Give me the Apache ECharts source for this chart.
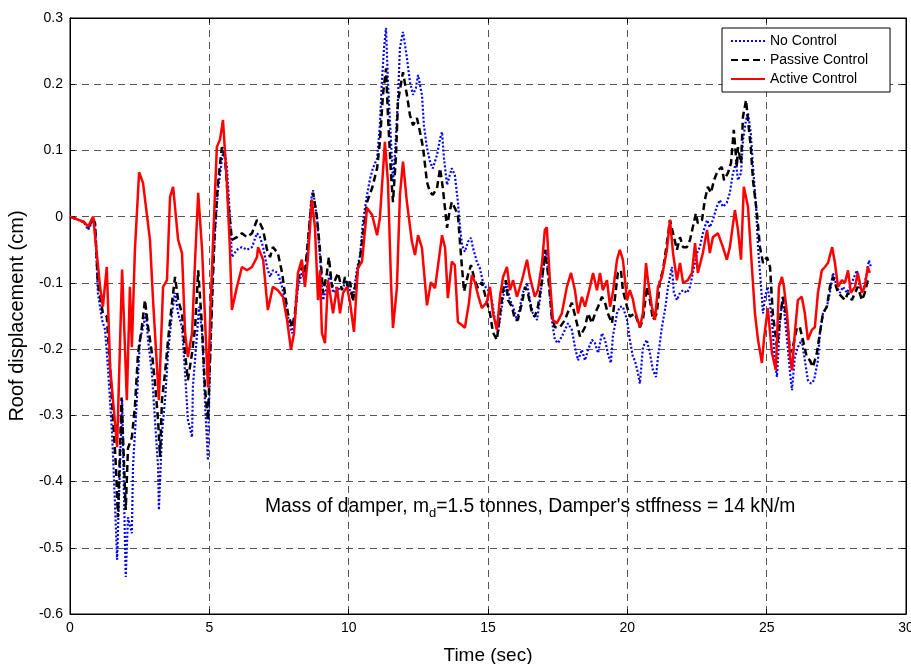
<!DOCTYPE html>
<html>
<head>
<meta charset="utf-8">
<script src="https://cdn.jsdelivr.net/npm/echarts@6/dist/echarts.min.js"></script>
<style>
html,body{margin:0;padding:0;background:#fff;}
#chart{width:911px;height:664px;}
</style>
</head>
<body>
<div id="chart"></div>
<script>
// ---- Data (time in s, roof displacement in cm) ----
var seriesNames = ['No Control', 'Passive Control', 'Active Control'];

var tNone = [0,0.5,0.65,0.83,0.9,1,1.15,1.26,1.36,1.51,1.61,1.69,1.79,1.87,1.94,2,2.08,2.22,2.26,2.4,2.51,2.62,2.73,2.8,2.94,3.05,3.16,3.19,3.3,3.41,3.52,3.66,3.77,3.88,4.02,4.13,4.23,4.38,4.41,4.56,4.63,4.74,4.84,4.95,5.02,5.13,5.2,5.31,5.45,5.53,5.63,5.74,5.81,5.99,6.17,6.35,6.53,6.71,6.82,6.93,7.07,7.18,7.28,7.46,7.61,7.71,7.82,7.97,8.07,8.18,8.32,8.43,8.54,8.65,8.72,8.86,8.97,9.08,9.22,9.33,9.44,9.58,9.69,9.8,9.94,10.05,10.15,10.3,10.41,10.51,10.66,10.77,10.87,11.02,11.12,11.19,11.27,11.34,11.41,11.52,11.59,11.66,11.77,11.84,11.95,12.09,12.2,12.31,12.41,12.49,12.63,12.7,12.81,12.92,13.02,13.17,13.28,13.35,13.42,13.53,13.63,13.7,13.81,13.92,13.99,14.07,14.17,14.28,14.39,14.46,14.6,14.71,14.82,14.96,15.07,15.14,15.25,15.36,15.46,15.57,15.68,15.79,15.9,16.04,16.15,16.25,16.4,16.5,16.61,16.76,16.86,16.97,17.08,17.18,17.29,17.4,17.51,17.65,17.76,17.87,18.01,18.12,18.23,18.37,18.48,18.59,18.73,18.84,18.95,19.09,19.2,19.3,19.41,19.48,19.63,19.73,19.84,19.99,20.09,20.2,20.27,20.38,20.45,20.56,20.7,20.81,20.92,21.03,21.1,21.24,21.35,21.46,21.6,21.67,21.78,21.89,22,22.14,22.25,22.35,22.5,22.6,22.71,22.86,22.96,23.07,23.21,23.32,23.43,23.57,23.68,23.79,23.9,23.97,24.08,24.15,24.26,24.33,24.43,24.51,24.62,24.69,24.8,24.87,24.94,25.04,25.19,25.3,25.37,25.48,25.58,25.73,25.84,25.91,26.01,26.12,26.26,26.37,26.48,26.59,26.7,26.84,26.91,27.02,27.16,27.27,27.38,27.52,27.63,27.74,27.88,27.99,28.09,28.24,28.34,28.45,28.59,28.67,28.74];
var vNone = [0,-0.008,-0.02,-0.005,-0.012,-0.115,-0.156,-0.171,-0.227,-0.327,-0.428,-0.518,-0.378,-0.277,-0.428,-0.544,-0.454,-0.478,-0.378,-0.277,-0.186,-0.167,-0.146,-0.186,-0.236,-0.307,-0.378,-0.443,-0.327,-0.277,-0.206,-0.146,-0.115,-0.146,-0.167,-0.236,-0.307,-0.333,-0.257,-0.176,-0.136,-0.176,-0.277,-0.368,-0.227,-0.076,-0.025,0.04,0.086,0.105,0.075,0,-0.061,-0.05,-0.046,-0.05,-0.046,-0.025,-0.031,-0.046,-0.076,-0.091,-0.081,-0.085,-0.106,-0.126,-0.151,-0.176,-0.156,-0.106,-0.085,-0.096,-0.04,0.025,0.04,0,-0.061,-0.126,-0.106,-0.085,-0.115,-0.106,-0.111,-0.106,-0.096,-0.112,-0.124,-0.078,-0.058,-0.008,0.033,0.058,0.073,0.088,0.138,0.203,0.255,0.285,0.203,0.113,0.052,0.093,0.179,0.255,0.279,0.24,0.203,0.184,0.194,0.214,0.184,0.138,0.104,0.083,0.073,0.093,0.118,0.128,0.088,0.048,0.063,0.073,0.063,0.022,-0.013,-0.043,-0.053,-0.038,-0.032,-0.047,-0.068,-0.078,-0.099,-0.11,-0.112,-0.126,-0.156,-0.176,-0.146,-0.115,-0.1,-0.126,-0.136,-0.156,-0.136,-0.115,-0.1,-0.126,-0.146,-0.156,-0.126,-0.085,-0.05,-0.091,-0.156,-0.186,-0.191,-0.181,-0.171,-0.161,-0.171,-0.197,-0.217,-0.201,-0.217,-0.201,-0.186,-0.191,-0.206,-0.176,-0.186,-0.206,-0.221,-0.181,-0.146,-0.136,-0.136,-0.156,-0.186,-0.212,-0.217,-0.236,-0.252,-0.197,-0.186,-0.206,-0.232,-0.242,-0.212,-0.167,-0.141,-0.106,-0.076,-0.115,-0.126,-0.115,-0.111,-0.115,-0.106,-0.085,-0.055,-0.046,-0.025,-0.005,-0.016,-0.005,0.015,0.025,0.015,0.021,0.036,0.066,0.081,0.055,0.066,0.116,0.146,0.157,0.126,0.075,0.015,-0.046,-0.106,-0.146,-0.121,-0.106,-0.156,-0.221,-0.242,-0.156,-0.121,-0.186,-0.236,-0.262,-0.212,-0.197,-0.186,-0.217,-0.247,-0.252,-0.247,-0.217,-0.176,-0.146,-0.136,-0.115,-0.085,-0.106,-0.115,-0.106,-0.115,-0.106,-0.096,-0.081,-0.106,-0.115,-0.085,-0.066,-0.076];

var tPassive = [0,0.5,0.65,0.83,0.9,1,1.18,1.32,1.44,1.54,1.65,1.72,1.85,2,2.08,2.22,2.33,2.44,2.58,2.69,2.8,2.94,3.05,3.16,3.23,3.3,3.41,3.52,3.66,3.77,3.88,4.02,4.13,4.23,4.38,4.49,4.6,4.74,4.84,4.95,5.1,5.2,5.31,5.45,5.56,5.67,5.81,5.99,6.17,6.35,6.53,6.71,6.82,6.93,7.07,7.18,7.28,7.46,7.61,7.71,7.82,7.97,8.07,8.18,8.32,8.43,8.54,8.68,8.72,8.86,8.97,9.08,9.22,9.29,9.4,9.51,9.62,9.76,9.87,9.97,10.05,10.15,10.3,10.41,10.51,10.66,10.84,11.02,11.12,11.23,11.34,11.41,11.52,11.59,11.7,11.77,11.91,11.95,12.09,12.2,12.31,12.45,12.56,12.67,12.81,12.92,13.02,13.17,13.28,13.38,13.53,13.6,13.7,13.81,13.92,14.03,14.14,14.28,14.39,14.5,14.64,14.78,14.96,15.07,15.18,15.32,15.43,15.54,15.64,15.72,15.86,15.97,16.07,16.22,16.33,16.43,16.58,16.68,16.79,16.94,17.04,17.15,17.29,17.4,17.58,17.76,17.94,18.01,18.19,18.3,18.48,18.59,18.73,18.84,18.95,19.09,19.2,19.3,19.45,19.56,19.66,19.77,19.84,19.99,20.09,20.27,20.45,20.56,20.7,20.81,20.92,21.06,21.17,21.28,21.42,21.53,21.64,21.78,21.89,22,22.14,22.25,22.35,22.46,22.53,22.68,22.78,22.89,23,23.11,23.25,23.39,23.47,23.61,23.72,23.82,23.93,23.97,24.08,24.15,24.26,24.33,24.43,24.51,24.65,24.76,24.87,25.01,25.12,25.22,25.37,25.48,25.58,25.73,25.84,25.94,26.09,26.19,26.3,26.44,26.55,26.66,26.8,26.91,27.02,27.16,27.27,27.38,27.45,27.56,27.7,27.81,27.92,28.06,28.17,28.27,28.42,28.52,28.63,28.7];
var vPassive = [0,-0.008,-0.017,-0.003,-0.01,-0.1,-0.146,-0.151,-0.227,-0.302,-0.378,-0.454,-0.273,-0.443,-0.35,-0.333,-0.287,-0.207,-0.166,-0.126,-0.166,-0.206,-0.251,-0.307,-0.363,-0.277,-0.236,-0.186,-0.13,-0.091,-0.126,-0.146,-0.206,-0.247,-0.206,-0.167,-0.081,-0.167,-0.257,-0.307,-0.126,-0.016,0.051,0.105,0.09,0.025,-0.035,-0.031,-0.025,-0.031,-0.025,-0.005,-0.01,-0.02,-0.05,-0.061,-0.046,-0.055,-0.085,-0.115,-0.146,-0.167,-0.146,-0.096,-0.076,-0.085,-0.035,0.025,0.036,0,-0.05,-0.115,-0.085,-0.061,-0.106,-0.096,-0.085,-0.111,-0.091,-0.106,-0.098,-0.128,-0.088,-0.062,-0.028,0.022,0.043,0.073,0.113,0.184,0.224,0.153,0.063,0.022,0.093,0.174,0.209,0.218,0.184,0.153,0.138,0.149,0.128,0.104,0.052,0.037,0.033,0.043,0.073,0.043,-0.017,0.003,0.022,0.013,0.003,-0.058,-0.113,-0.088,-0.073,-0.092,-0.108,-0.099,-0.129,-0.146,-0.175,-0.186,-0.146,-0.111,-0.096,-0.126,-0.136,-0.156,-0.156,-0.13,-0.106,-0.115,-0.146,-0.151,-0.136,-0.096,-0.05,-0.085,-0.151,-0.167,-0.167,-0.156,-0.136,-0.13,-0.161,-0.181,-0.167,-0.146,-0.161,-0.146,-0.136,-0.121,-0.13,-0.146,-0.161,-0.121,-0.085,-0.081,-0.111,-0.136,-0.151,-0.146,-0.167,-0.156,-0.106,-0.126,-0.156,-0.146,-0.096,-0.081,-0.04,-0.005,-0.025,-0.05,-0.031,-0.046,-0.046,-0.035,-0.016,0.005,-0.01,-0.005,0.025,0.045,0.036,0.055,0.07,0.075,0.055,0.066,0.081,0.131,0.075,0.105,0.081,0.151,0.176,0.146,0.105,0.055,0.005,-0.046,-0.07,-0.061,-0.076,-0.146,-0.197,-0.156,-0.121,-0.156,-0.206,-0.197,-0.167,-0.167,-0.186,-0.212,-0.217,-0.227,-0.206,-0.176,-0.146,-0.136,-0.106,-0.091,-0.1,-0.115,-0.121,-0.126,-0.115,-0.126,-0.115,-0.106,-0.126,-0.115,-0.096,-0.096];

var tActive = [0,0.5,0.65,0.83,1.08,1.18,1.32,1.44,1.69,1.87,2.04,2.15,2.22,2.33,2.48,2.62,2.87,2.98,3.19,3.34,3.48,3.59,3.7,3.88,4.02,4.13,4.23,4.38,4.49,4.6,4.74,4.95,5.05,5.15,5.27,5.38,5.49,5.63,5.74,5.81,5.99,6.17,6.35,6.53,6.71,6.75,6.93,7.1,7.28,7.46,7.64,7.79,7.93,8.04,8.18,8.32,8.43,8.54,8.68,8.79,8.9,8.97,9.04,9.15,9.26,9.44,9.58,9.69,9.8,9.94,10.05,10.19,10.33,10.48,10.66,10.84,11.02,11.12,11.3,11.41,11.52,11.59,11.73,11.84,11.95,12.09,12.27,12.38,12.49,12.63,12.81,12.95,13.1,13.35,13.46,13.56,13.7,13.81,13.92,14.07,14.17,14.32,14.42,14.53,14.64,14.78,14.96,15.07,15.18,15.32,15.43,15.54,15.68,15.79,15.9,16.04,16.22,16.4,16.5,16.68,16.79,16.94,17.04,17.11,17.22,17.33,17.47,17.65,17.83,17.98,18.12,18.23,18.37,18.48,18.66,18.77,18.91,19.02,19.12,19.27,19.38,19.48,19.63,19.73,19.84,19.99,20.09,20.2,20.27,20.45,20.56,20.67,20.74,20.88,20.99,21.1,21.24,21.42,21.53,21.64,21.78,21.89,22,22.17,22.32,22.43,22.53,22.71,22.86,22.96,23.07,23.25,23.43,23.57,23.68,23.86,23.97,24.08,24.18,24.33,24.47,24.58,24.69,24.83,24.9,25.04,25.19,25.33,25.44,25.55,25.62,25.73,25.84,25.91,26.01,26.12,26.26,26.37,26.48,26.62,26.73,26.84,26.98,27.09,27.2,27.35,27.45,27.56,27.7,27.81,27.92,28.02,28.17,28.27,28.42,28.52,28.63,28.7];
var vActive = [0,-0.008,-0.015,0,-0.106,-0.136,-0.076,-0.227,-0.348,-0.08,-0.277,-0.106,-0.197,-0.05,0.067,0.051,-0.035,-0.126,-0.277,-0.106,-0.096,0.03,0.045,-0.035,-0.055,-0.176,-0.212,-0.176,-0.065,0.036,-0.05,-0.258,-0.13,-0.02,0.105,0.116,0.146,0.051,-0.05,-0.141,-0.106,-0.076,-0.081,-0.076,-0.061,-0.046,-0.065,-0.141,-0.106,-0.111,-0.121,-0.156,-0.201,-0.176,-0.085,-0.065,-0.106,-0.061,0.025,-0.016,-0.126,-0.081,-0.176,-0.191,-0.096,-0.146,-0.106,-0.146,-0.115,-0.106,-0.13,-0.174,-0.078,-0.068,0.013,0.003,-0.028,-0.002,0.113,0.052,-0.099,-0.168,-0.108,0.033,0.083,0.022,-0.038,-0.058,-0.028,-0.047,-0.134,-0.099,-0.108,-0.028,-0.047,-0.123,-0.068,-0.073,-0.159,-0.164,-0.168,-0.129,-0.088,-0.099,-0.118,-0.138,-0.129,-0.106,-0.146,-0.171,-0.121,-0.091,-0.076,-0.111,-0.096,-0.121,-0.096,-0.065,-0.091,-0.121,-0.111,-0.07,-0.02,-0.016,-0.096,-0.156,-0.161,-0.146,-0.106,-0.085,-0.111,-0.146,-0.121,-0.136,-0.106,-0.085,-0.111,-0.085,-0.111,-0.096,-0.136,-0.115,-0.065,-0.05,-0.065,-0.126,-0.111,-0.125,-0.141,-0.167,-0.146,-0.07,-0.096,-0.136,-0.156,-0.106,-0.091,-0.05,-0.005,-0.055,-0.096,-0.07,-0.1,-0.096,-0.085,-0.04,-0.085,-0.055,-0.02,-0.055,-0.031,-0.025,-0.046,-0.065,-0.046,0.01,-0.02,-0.065,0.045,0.015,-0.076,-0.146,-0.186,-0.221,-0.186,-0.138,-0.206,-0.232,-0.106,-0.091,-0.106,-0.146,-0.212,-0.232,-0.176,-0.126,-0.121,-0.146,-0.186,-0.171,-0.167,-0.115,-0.081,-0.076,-0.07,-0.046,-0.07,-0.106,-0.096,-0.1,-0.081,-0.115,-0.106,-0.085,-0.115,-0.106,-0.076,-0.085];

var xTicks = {min: 0, max: 30, step: 5};
var yTicks = {min: -0.6, max: 0.3, step: 0.1};

function zip(t, v) { return t.map(function (x, i) { return [x, v[i]]; }); }

var FONT = 'Liberation Sans, Arial, sans-serif';
var chart = echarts.init(document.getElementById('chart'), null, {renderer: 'canvas'});

var gridLine = {show: true, lineStyle: {color: '#555', width: 1, type: [7, 5]}};

chart.setOption({
  animation: false,
  backgroundColor: '#fff',
  grid: {left: 70, right: 5, top: 18, bottom: 50, outerBoundsMode: 'none', containLabel: false,
         show: true, borderColor: '#000', borderWidth: 1, backgroundColor: 'transparent'},
  legend: {
    orient: 'vertical', left: 722, top: 28,
    padding: [6, 22, 6, 8], itemGap: 5, itemWidth: 34, itemHeight: 14,
    borderColor: '#000', borderWidth: 1, backgroundColor: '#fff',
    itemStyle: {color: 'rgba(0,0,0,0)', borderWidth: 0, opacity: 0},
    textStyle: {fontFamily: FONT, fontSize: 14, color: '#000'},
    data: seriesNames
  },
  xAxis: [{
    type: 'value', min: xTicks.min, max: xTicks.max, interval: xTicks.step,
    name: 'Time (sec)', nameLocation: 'middle', nameGap: 32,
    nameTextStyle: {fontFamily: FONT, fontSize: 19, color: '#000'},
    axisLine: {show: true, onZero: false, lineStyle: {color: '#000'}},
    axisTick: {show: true, inside: true, length: 5, lineStyle: {color: '#000'}},
    axisLabel: {fontFamily: FONT, fontSize: 14, color: '#000', margin: 7},
    splitLine: gridLine
  }, {
    type: 'value', position: 'top', min: xTicks.min, max: xTicks.max, interval: xTicks.step,
    axisLine: {show: true, onZero: false, lineStyle: {color: '#000'}},
    axisTick: {show: true, inside: true, length: 5, lineStyle: {color: '#000'}},
    axisLabel: {show: false}, splitLine: {show: false}
  }],
  yAxis: [{
    type: 'value', min: yTicks.min, max: yTicks.max, interval: yTicks.step,
    name: 'Roof displacement (cm)', nameLocation: 'middle', nameGap: 40,
    nameTextStyle: {fontFamily: FONT, fontSize: 20, color: '#000'},
    axisLine: {show: true, onZero: false, lineStyle: {color: '#000'}},
    axisTick: {show: true, inside: true, length: 5, lineStyle: {color: '#000'}},
    axisLabel: {fontFamily: FONT, fontSize: 14, color: '#000', margin: 7},
    splitLine: gridLine
  }, {
    type: 'value', position: 'right', min: yTicks.min, max: yTicks.max, interval: yTicks.step,
    axisLine: {show: true, onZero: false, lineStyle: {color: '#000'}},
    axisTick: {show: true, inside: true, length: 5, lineStyle: {color: '#000'}},
    axisLabel: {show: false}, splitLine: {show: false}
  }],
  series: [
    {name: seriesNames[0], type: 'line', data: zip(tNone, vNone), symbol: 'none', z: 2,
     lineStyle: {color: '#0000ff', width: 2.2, type: [2, 2]}, itemStyle: {color: '#0000ff'}},
    {name: seriesNames[1], type: 'line', data: zip(tPassive, vPassive), symbol: 'none', z: 3,
     lineStyle: {color: '#000000', width: 2.5, type: [7, 4]}, itemStyle: {color: '#000000'}},
    {name: seriesNames[2], type: 'line', data: zip(tActive, vActive), symbol: 'none', z: 4,
     lineStyle: {color: '#ff0000', width: 2.5, type: 'solid'}, itemStyle: {color: '#ff0000'}}
  ],
  graphic: [{
    type: 'text', left: 265, top: 497, z: 10,
    style: {
      text: '{a|Mass of damper, m}{s|d}{a|=1.5 tonnes, Damper\'s stffness = 14 kN/m}',
      rich: {
        a: {fontFamily: FONT, fontSize: 19.3, fill: '#000', lineHeight: 26, verticalAlign: 'middle'},
        s: {fontFamily: FONT, fontSize: 13, fill: '#000', lineHeight: 26, verticalAlign: 'bottom'}
      }
    }
  }]
});
</script>
</body>
</html>
